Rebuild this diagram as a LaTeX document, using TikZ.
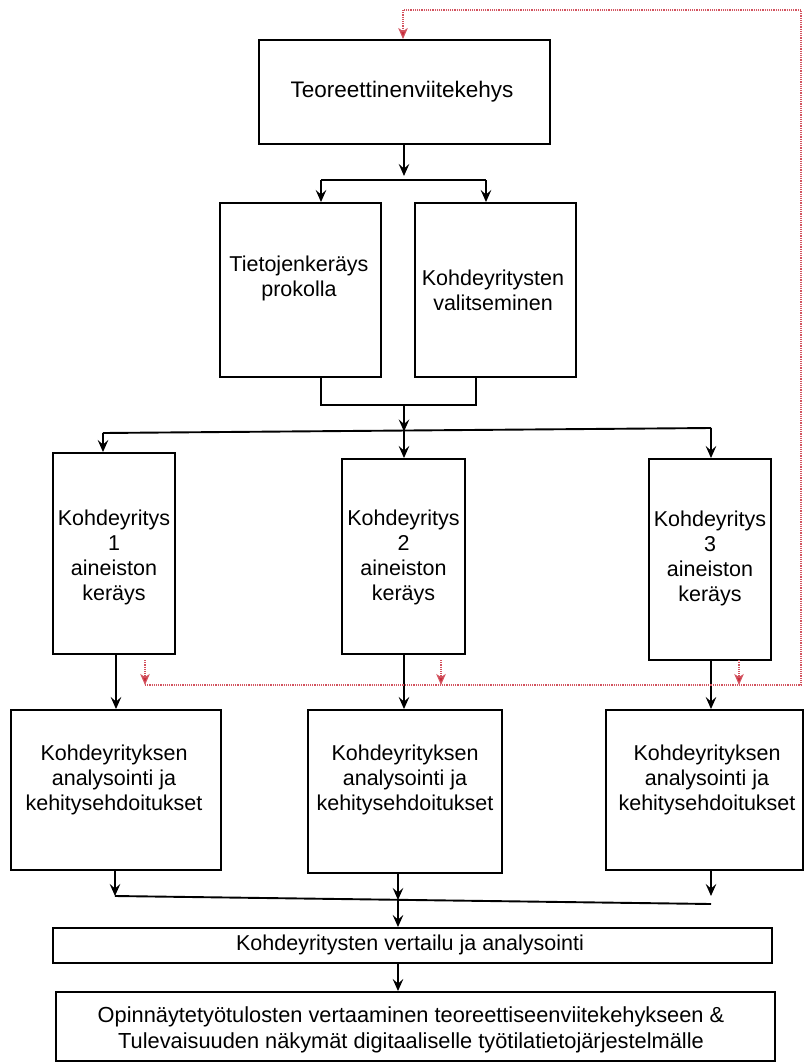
\documentclass[tikz,border=0pt]{standalone}
\usepackage{fontspec}
\setmainfont{Liberation Sans}
\usetikzlibrary{arrows.meta}
\definecolor{fb}{RGB}{200,40,55}
\tikzset{
  box/.style={draw=black, line width=1.9pt, rectangle, inner sep=0pt},
  txt/.style={align=center, inner sep=0pt, font=\fontsize{21.5}{25}\selectfont},
  ln/.style={draw=black, line width=1.9pt},
  arr/.style={ln, -{Stealth[length=12pt,width=10.5pt,inset=4.5pt]}},
  rline/.style={draw=fb!80, line width=1.2pt, dash pattern=on 1.2pt off 1pt},
  rarr/.style={rline, -{Stealth[length=11pt,width=9.5pt,inset=3pt,fill=fb]}}
}
\begin{document}
\begin{tikzpicture}[x=1pt,y=-1pt]
\useasboundingbox (0,0) rectangle (805,1063);
% boxes
\node[box, minimum width=291pt, minimum height=104pt] (teo) at (404.5,92) {};
\node[box, minimum width=161pt, minimum height=174pt] (tiet) at (300.5,290) {};
\node[box, minimum width=161pt, minimum height=174pt] (valit) at (495.5,290) {};
\node[box, minimum width=122pt, minimum height=201pt] (k1) at (114,553.5) {};
\node[box, minimum width=123pt, minimum height=195pt] (k2) at (403.5,556.5) {};
\node[box, minimum width=122pt, minimum height=201pt] (k3) at (710,559.5) {};
\node[box, minimum width=210pt, minimum height=160pt] (a1) at (116,790) {};
\node[box, minimum width=194pt, minimum height=163pt] (a2) at (405,791.5) {};
\node[box, minimum width=197pt, minimum height=160pt] (a3) at (704.5,790) {};
\node[box, minimum width=719pt, minimum height=35pt] (vert) at (412.5,945.5) {};
\node[box, minimum width=719pt, minimum height=69pt] (opin) at (415.5,1026.5) {};
% texts
\node[txt, font=\fontsize{22.5}{26}\selectfont] (tteo) at (402,92) {Teoreettinenviitekehys};
\node[txt] (ttiet) at (299,278) {Tietojenkeräys\\prokolla};
\node[txt] (tvalit) at (493,290) {Kohdeyritysten\\valitseminen};
\node[txt] (tk1) at (114,557) {Kohdeyritys\\1\\aineiston\\keräys};
\node[txt] (tk2) at (403.5,557) {Kohdeyritys\\2\\aineiston\\keräys};
\node[txt] (tk3) at (710,558) {Kohdeyritys\\3\\aineiston\\keräys};
\node[txt] (ta1) at (114,780) {Kohdeyrityksen\\analysointi ja\\kehitysehdoitukset};
\node[txt] (ta2) at (405,780) {Kohdeyrityksen\\analysointi ja\\kehitysehdoitukset};
\node[txt] (ta3) at (707,780) {Kohdeyrityksen\\analysointi ja\\kehitysehdoitukset};
\node[txt] (tvert) at (410,945) {Kohdeyritysten vertailu ja analysointi};
\node[txt, font=\fontsize{21.8}{26}\selectfont] (topin) at (411,1030) {Opinnäytetyötulosten vertaaminen teoreettiseenviitekehykseen \&\\Tulevaisuuden näkymät digitaaliselle työtilatietojärjestelmälle};
% coordinates
\coordinate (s1) at (404,176);
\coordinate (f1) at (321,180);
\coordinate (f2) at (486,180);
\coordinate (m1) at (321,405);
\coordinate (m2) at (476,405);
\coordinate (mc) at (404,405);
\coordinate (h1) at (103,433);
\coordinate (hc) at (404,430.5);
\coordinate (h3) at (711,428);
\coordinate (b1) at (115,896);
\coordinate (bc) at (398,900);
\coordinate (b3) at (711,904);
\coordinate (b3t) at (711,896);
% black connectors
\draw[arr] (teo.south -| s1) -- (s1);
\draw[ln] (f1) -- (f2);
\draw[arr] (f1) -- (f1 |- tiet.north);
\draw[arr] (f2) -- (f2 |- valit.north);
\draw[ln] (m1 |- tiet.south) -- (m1) -- (m2) -- (m2 |- valit.south);
\draw[arr] (mc) -- ([yshift=-1pt]hc);
\draw[ln] (h1) -- (h3);
\draw[arr] (h1) -- (h1 |- k1.north);
\draw[arr] (hc) -- (hc |- k2.north);
\draw[arr] (h3) -- (h3 |- k3.north);
\draw[arr] (k1.south -| a1) -- (a1.north);
\draw[arr] (hc |- k2.south) -- (hc |- a2.north);
\draw[arr] (k3.south -| h3) -- (h3 |- a3.north);
\draw[arr] (a1.south -| b1) -- (b1);
\draw[arr] (a2.south -| bc) -- (bc);
\draw[arr] (a3.south -| b3t) -- (b3t);
\draw[ln] (b1) -- (b3);
\draw[arr] (bc) -- (bc |- vert.north);
\draw[arr] (vert.south -| bc) -- (bc |- opin.north);
% red feedback
\coordinate (r1) at (145,685);
\coordinate (r2) at (801,685);
\coordinate (r3) at (801,10);
\coordinate (r4) at (403,10);
\coordinate (q1) at (145,660);
\coordinate (q2) at (441,660);
\coordinate (q3) at (739,660);
\draw[rline] (r1) -- (r2) -- (r3) -- (r4);
\draw[rarr] (r4) -- (r4 |- teo.north);
\draw[rarr] (q1) -- (q1 |- r1);
\draw[rarr] (q2) -- (q2 |- r1);
\draw[rarr] (q3) -- (q3 |- r1);
\end{tikzpicture}
\end{document}
